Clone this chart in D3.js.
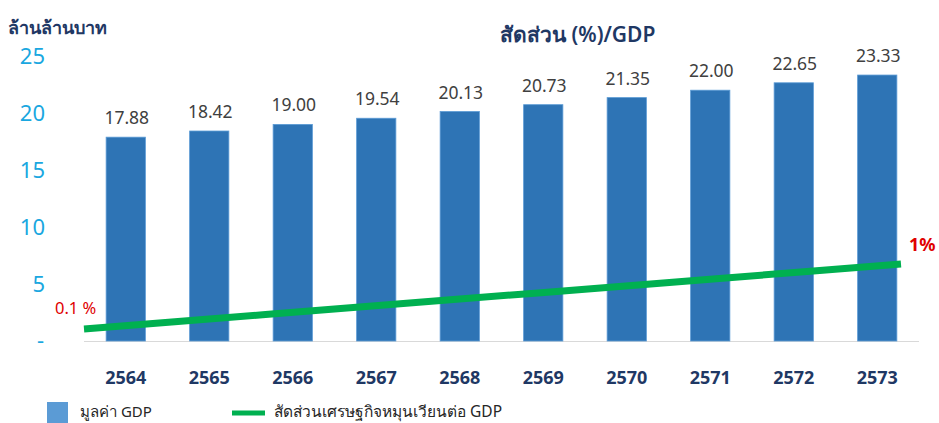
<!DOCTYPE html>
<html>
    <head>
        <meta charset="utf-8">
        <title>GDP</title>
        <script src="https://d3js.org/d3.v7.min.js"></script>
        <style>
            body { margin: 0; background: #fff; }
            text { font-family: 'Noto Sans', 'Open Sans', sans-serif; }
        </style>
    </head>
    <body>
        <script type='text/javascript'>
            var years = ['2564', '2565', '2566', '2567', '2568', '2569', '2570', '2571', '2572', '2573'];
            var gdpValues = [17.88, 18.42, 19.00, 19.54, 20.13, 20.73, 21.35, 22.00, 22.65, 23.33];
            var shareValues = [0.1, 0.2, 0.3, 0.4, 0.5, 0.6, 0.7, 0.8, 0.9, 1.0];
            var yTicks = [0, 5, 10, 15, 20, 25];

            var w = 939;
            var h = 423;
            var left = 84, right = 919, base = 341;

            var svg = d3.select('body')
                        .append('svg')
                        .attr('width', w)
                        .attr('height', h);

            //Scales
            var xScale = d3.scaleBand()
                            .domain(years)
                            .range([left, right])
                            .paddingInner(0.53)
                            .paddingOuter(0.265);

            var yScale = d3.scaleLinear()
                            .domain([0, 25])
                            .range([base, 56]);

            // line runs from the left edge to past the last bar
            var xLine = d3.scalePoint()
                            .domain(years)
                            .range([left, 901]);

            var y2Scale = d3.scaleLinear()
                            .domain([0.1, 1])
                            .range([329, 264]);

            //Left axis, no line, blue labels
            var yAxis = d3.axisLeft(yScale)
                            .tickValues(yTicks)
                            .tickSize(0)
                            .tickPadding(0)
                            .tickFormat(function(d) { return d === 0 ? '-' : d; });

            var gy = svg.append('g')
                .attr('transform', 'translate(45,0)')
                .call(yAxis);
            gy.select('.domain').remove();
            gy.selectAll('text')
                .attr('fill', '#1AA7E0')
                .attr('font-size', '22px')
                .attr('dy', '0.36em');
            gy.selectAll('.tick')
                .filter(function(d) { return d === 0; })
                .select('text')
                .attr('dy', '0.3em')
                .attr('x', -1);

            //Baseline
            svg.append('line')
                .attr('x1', left)
                .attr('x2', right)
                .attr('y1', base + 0.5)
                .attr('y2', base + 0.5)
                .attr('stroke', '#d9d9d9')
                .attr('stroke-width', 1);

            //Bars
            svg.selectAll('rect.bar')
                .data(gdpValues)
                .enter()
                .append('rect')
                .attr('class', 'bar')
                .attr('x', function(d, i) { return xScale(years[i]); })
                .attr('y', function(d) { return yScale(d); })
                .attr('width', xScale.bandwidth())
                .attr('height', function(d) { return base - yScale(d); })
                .attr('fill', '#2E74B5')
                .attr('stroke', '#5B9BD5')
                .attr('stroke-width', 0.8);

            svg.selectAll('text.val')
                .data(gdpValues)
                .enter()
                .append('text')
                .attr('class', 'val')
                .text(function(d) { return d.toFixed(2); })
                .attr('x', function(d, i) { return xScale(years[i]) + xScale.bandwidth() / 2 + 1; })
                .attr('y', function(d) { return yScale(d) - 13; })
                .attr('text-anchor', 'middle')
                .attr('font-size', '17.5px')
                .attr('fill', '#404040');

            //X axis labels
            var xAxis = d3.axisBottom(xScale)
                            .tickSize(0)
                            .tickPadding(0);
            var gx = svg.append('g')
                .attr('transform', 'translate(0,' + 384 + ')')
                .call(xAxis);
            gx.select('.domain').remove();
            gx.selectAll('text')
                .attr('dy', 0)
                .attr('fill', '#1F3864')
                .attr('font-size', '18px')
                .attr('font-weight', 'bold');

            //Share line
            var line = d3.line()
                        .x(function(d, i) { return xLine(years[i]); })
                        .y(function(d) { return y2Scale(d); });

            svg.append('path')
                .datum(shareValues)
                .attr('d', line)
                .attr('fill', 'none')
                .attr('stroke', '#00B050')
                .attr('stroke-width', 7);

            svg.append('text')
                .text('0.1 %')
                .attr('x', 55)
                .attr('y', 314)
                .attr('font-size', '16.5px')
                .attr('fill', '#E00000');

            svg.append('text')
                .text('1%')
                .attr('x', 909)
                .attr('y', 251)
                .attr('font-size', '18px')
                .attr('font-weight', 'bold')
                .attr('fill', '#E00000');

            //Titles
            svg.append('text')
                .text('ล้านล้านบาท')
                .attr('x', 8)
                .attr('y', 34)
                .attr('font-size', '18px')
                .attr('font-weight', 'bold')
                .attr('fill', '#1F3864');

            svg.append('text')
                .text('สัดส่วน (%)/GDP')
                .attr('x', 500)
                .attr('y', 42)
                .attr('font-size', '21px')
                .attr('font-weight', '600')
                .attr('fill', '#1F3864');

            //Legend
            svg.append('rect')
                .attr('x', 47)
                .attr('y', 402)
                .attr('width', 21)
                .attr('height', 21)
                .attr('fill', '#5B9BD5');

            svg.append('text')
                .text('มูลค่า GDP')
                .attr('x', 80)
                .attr('y', 417)
                .attr('font-size', '15px')
                .attr('fill', '#262626');

            svg.append('line')
                .attr('x1', 232)
                .attr('x2', 265)
                .attr('y1', 413)
                .attr('y2', 413)
                .attr('stroke', '#00B050')
                .attr('stroke-width', 5);

            svg.append('text')
                .text('สัดส่วนเศรษฐกิจหมุนเวียนต่อ GDP')
                .attr('x', 274)
                .attr('y', 417)
                .attr('font-size', '15.5px')
                .attr('fill', '#262626');
        </script>
    </body>
</html>
